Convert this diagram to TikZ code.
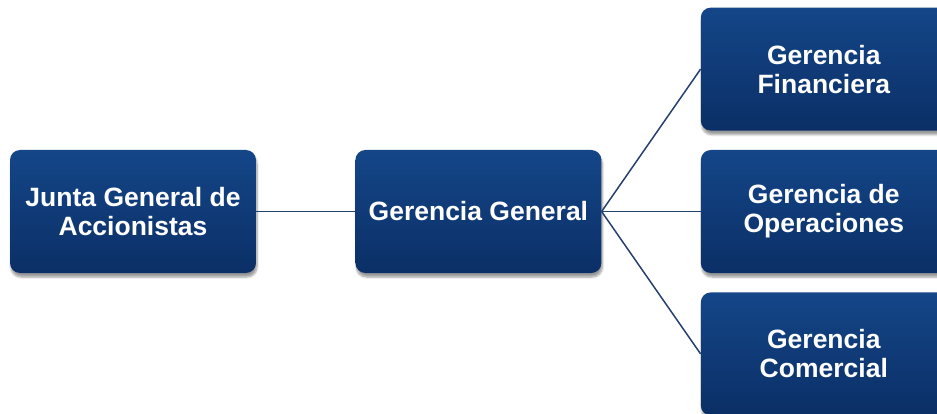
\documentclass[tikz,border=0pt]{standalone}
\usepackage{fontspec}
\setmainfont{Liberation Sans}
\usetikzlibrary{positioning}
\usetikzlibrary{shadows.blur}
\definecolor{boxtop}{RGB}{20,70,136}
\definecolor{boxbot}{RGB}{11,47,102}
\definecolor{linkcol}{RGB}{38,64,112}

\tikzset{orgbox/.style={rectangle, rounded corners=10pt, minimum width=246pt, minimum height=123pt, inner sep=0pt,
    top color=boxtop, bottom color=boxbot, draw=none, text=white, align=center,
    font=\bfseries\fontsize{26.5}{29}\selectfont,
    blur shadow={shadow xshift=1pt, shadow yshift=-4pt, shadow opacity=40, shadow blur steps=6}},
  link/.style={draw=linkcol, line width=1.5pt}}

\begin{document}
\begin{tikzpicture}[x=1pt,y=1pt]

\clip (0,0) rectangle (937,-414);

\node[orgbox] (junta) at (133,-211.5) {Junta General de\\Accionistas};
\node[orgbox, right=99pt of junta] (gerencia) {Gerencia General};
\node[orgbox, right=99pt of gerencia] (operaciones) {Gerencia de\\Operaciones};
\node[orgbox, above=19pt of operaciones] (financiera) {Gerencia\\Financiera};
\node[orgbox, below=19pt of operaciones] (comercial) {Gerencia\\Comercial};

\draw[link] (junta.east) -- (gerencia.west);
\draw[link] (gerencia.east) -- (financiera.west);
\draw[link] (gerencia.east) -- (operaciones.west);
\draw[link] (gerencia.east) -- (comercial.west);

\end{tikzpicture}
\end{document}
